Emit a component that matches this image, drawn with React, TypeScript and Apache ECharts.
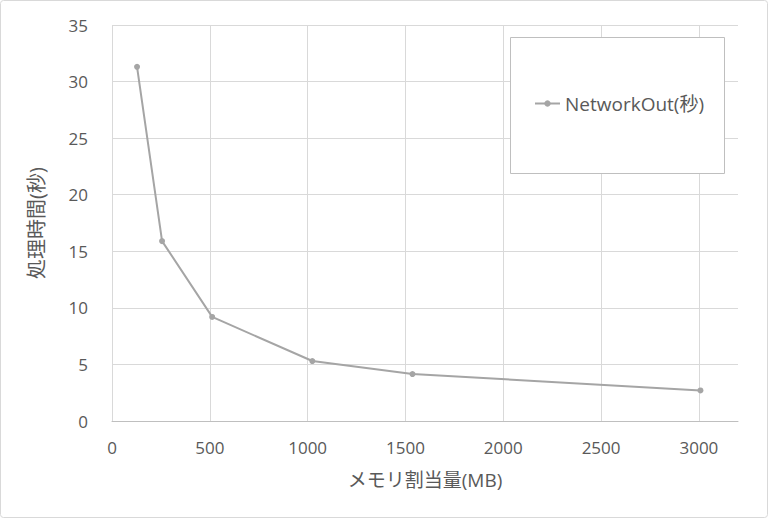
import React, { useEffect, useRef } from "react";
import * as echarts from "echarts";

const seriesName = "NetworkOut(秒)";
const memoryMB = [128, 256, 512, 1024, 1536, 3008];
const seconds = [31.3, 15.9, 9.2, 5.3, 4.15, 2.7];
const xAxisTitle = "メモリ割当量(MB)";
const yAxisTitle = "処理時間(秒)";

const FONT = "'Open Sans', 'Noto Sans CJK JP', sans-serif";
const TEXT = "#595959";

export default function App() {
  const ref = useRef<HTMLDivElement>(null);
  useEffect(() => {
    if (!ref.current) return;
    const chart = echarts.init(ref.current, undefined, { renderer: "svg" });
    const gridColors = ["#d9d9d9", "#d9d9d9", "#d9d9d9", "#d9d9d9", "#d9d9d9", "#d9d9d9", "#d9d9d9", "rgba(0,0,0,0)"];
    chart.setOption({
      animation: false,
      backgroundColor: "#ffffff",
      textStyle: { fontFamily: FONT },
      grid: { left: 112, top: 25, right: 30, bottom: 97 },
      graphic: [
        {
          type: "rect",
          shape: { x: 0.5, y: 0.5, width: 767, height: 517, r: 3 },
          style: { fill: "none", stroke: "#d9d9d9", lineWidth: 1 },
          silent: true,
        },
        {
          type: "rect",
          shape: { x: 510.5, y: 37.5, width: 214, height: 136 },
          style: { fill: "#ffffff", stroke: "#bfbfbf", lineWidth: 1 },
          z: 10,
          silent: true,
        },
      ],
      legend: {
        left: 534,
        top: 94,
        z: 20,
        itemWidth: 25,
        itemHeight: 8,
        itemGap: 0,
        padding: 0,
        data: [{ name: seriesName }],
        textStyle: { color: TEXT, fontSize: 19, fontFamily: FONT },
      },
      xAxis: {
        type: "value",
        min: 0,
        max: 3200,
        interval: 500,
        name: xAxisTitle,
        nameLocation: "middle",
        nameGap: 49,
        nameTextStyle: { color: TEXT, fontSize: 19, fontFamily: FONT },
        axisLine: { show: true, onZero: false, lineStyle: { color: "#bfbfbf", width: 1 } },
        axisTick: { show: false },
        axisLabel: { color: TEXT, fontSize: 17, margin: 18, showMaxLabel: false, formatter: (v: number) => String(v) },
        splitLine: { show: true, lineStyle: { color: gridColors, width: 1 } },
      },
      yAxis: {
        type: "value",
        min: 0,
        max: 35,
        interval: 5,
        name: yAxisTitle,
        nameLocation: "middle",
        nameGap: 66,
        nameRotate: 90,
        nameTextStyle: { color: TEXT, fontSize: 20, fontFamily: FONT },
        axisLine: { show: false },
        axisTick: { show: false },
        axisLabel: { color: TEXT, fontSize: 17, margin: 24 },
        splitLine: { show: true, lineStyle: { color: "#d9d9d9", width: 1 } },
      },
      series: [
        {
          name: seriesName,
          type: "line",
          data: memoryMB.map((m, i) => [m, seconds[i]]),
          symbol: "circle",
          symbolSize: 6,
          showSymbol: true,
          lineStyle: { color: "#a5a5a5", width: 2 },
          itemStyle: { color: "#a5a5a5" },
        },
      ],
    });
    return () => chart.dispose();
  }, []);
  return (
    <div
      ref={ref}
      style={{ position: "fixed", left: 0, top: 0, width: 768, height: 518 }}
    />
  );
}
